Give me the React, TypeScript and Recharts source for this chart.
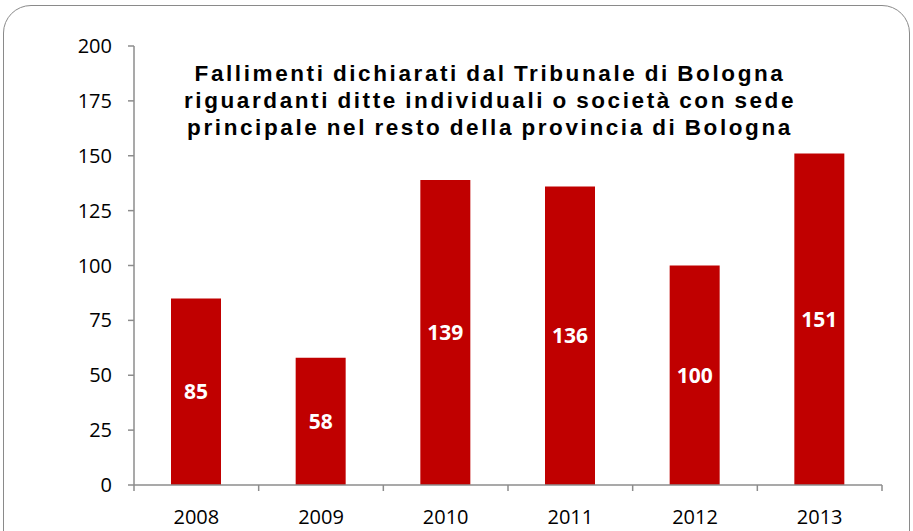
import { BarChart, Bar, XAxis, YAxis, LabelList } from "recharts";

const years = ["2008", "2009", "2010", "2011", "2012", "2013"];
const fallimenti = [85, 58, 139, 136, 100, 151];
const yTicks = [0, 25, 50, 75, 100, 125, 150, 175, 200];

const titleLines = [
  "Fallimenti dichiarati dal Tribunale di Bologna",
  "riguardanti ditte individuali o società con sede",
  "principale nel resto della provincia di Bologna",
];

const data = years.map((y, i) => ({ year: y, value: fallimenti[i] }));

const AXIS = "#8c8c8c";
const NUM_FONT = "'Open Sans', 'Noto Sans', sans-serif";

// category tick: year label plus a tick mark at the left edge of each band
function YearTick(props: any) {
  const { x, y, payload, index } = props;
  const half = payload.offset ?? 0;
  const axisY = y - 6 - 8;
  return (
    <g>
      <line x1={x - half} x2={x - half} y1={axisY} y2={axisY + 6} stroke={AXIS} strokeWidth={1.5} />
      {index === years.length - 1 && (
        <line x1={x + half} x2={x + half} y1={axisY} y2={axisY + 6} stroke={AXIS} strokeWidth={1.5} />
      )}
      <text x={x} y={axisY + 39} textAnchor="middle" fill="#000" fontSize={20} fontFamily={NUM_FONT}>
        {payload.value}
      </text>
    </g>
  );
}

export default function App() {
  return (
    <div
      style={{
        position: "fixed",
        left: 0,
        top: 0,
        width: 913,
        height: 531,
        overflow: "hidden",
        background: "#fff",
      }}
    >
      <div
        style={{
          position: "absolute",
          left: 3,
          top: 5,
          width: 905,
          height: 600,
          border: "1.5px solid #8a8a8a",
          borderRadius: 28,
        }}
      />
      <BarChart
        width={913}
        height={531}
        data={data}
        margin={{ top: 46, right: 31, left: 0, bottom: 0 }}
        style={{ position: "absolute", left: 0, top: 0 }}
      >
        <YAxis
          domain={[0, 200]}
          ticks={yTicks}
          width={134}
          interval={0}
          axisLine={{ stroke: AXIS, strokeWidth: 1.5 }}
          tickLine={{ stroke: AXIS, strokeWidth: 1.5 }}
          tickSize={6}
          tickMargin={16}
          tick={{ fill: "#000", fontSize: 20, fontFamily: NUM_FONT }}
        />
        <XAxis
          dataKey="year"
          height={46}
          interval={0}
          axisLine={{ stroke: AXIS, strokeWidth: 1.5 }}
          tickLine={false}
          tickSize={6}
          tickMargin={8}
          tick={<YearTick />}
        />
        <Bar dataKey="value" fill="#c00000" barSize={50} isAnimationActive={false}>
          <LabelList
            dataKey="value"
            position="center"
            fill="#fff"
            fontSize={21}
            fontWeight="bold"
            fontFamily={NUM_FONT}
          />
        </Bar>
      </BarChart>
      <div
        style={{
          position: "absolute",
          left: 290,
          top: 60,
          width: 400,
          textAlign: "center",
          fontFamily: "'Liberation Sans', Arial, sans-serif",
          fontWeight: "bold",
          fontSize: 22.5,
          lineHeight: "27px",
          letterSpacing: 2.6,
          wordSpacing: -1.5,
          color: "#000",
          whiteSpace: "nowrap",
          display: "flex",
          flexDirection: "column",
          alignItems: "center",
        }}
      >
        {titleLines.map((t) => (
          <div key={t}>{t}</div>
        ))}
      </div>
    </div>
  );
}
